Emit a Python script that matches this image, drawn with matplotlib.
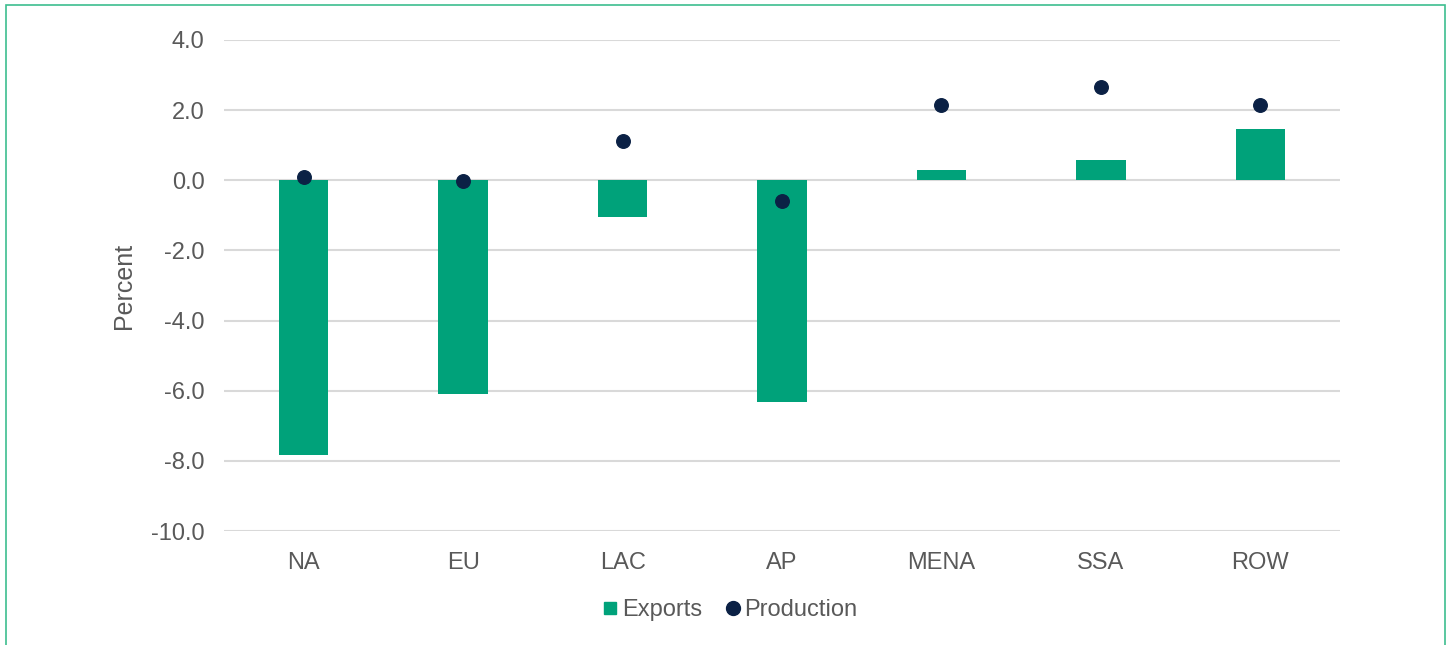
import matplotlib
matplotlib.use("Agg")
import matplotlib.pyplot as plt
from matplotlib.lines import Line2D
from matplotlib.patches import Rectangle

regions = ["NA", "EU", "LAC", "AP", "MENA", "SSA", "ROW"]
exports = [-7.83, -6.09, -1.05, -6.32, 0.29, 0.58, 1.46]
production = [0.09, -0.02, 1.12, -0.59, 2.15, 2.66, 2.15]
yticks = [4.0, 2.0, 0.0, -2.0, -4.0, -6.0, -8.0, -10.0]

bar_color = "#00A27A"
dot_color = "#0B2145"
text_color = "#595959"

plt.rcParams['font.family'] = ['Liberation Sans', 'DejaVu Sans']

fig = plt.figure(figsize=(14.49, 6.45), dpi=100)
ax = fig.add_axes([224/1449, 1-531/645, (1340-224)/1449, (531-40)/645])

x = list(range(len(regions)))
ax.bar(x, exports, width=0.31, color=bar_color, zorder=2)
ax.scatter(x, production, s=95, color=dot_color, zorder=3)

ax.set_xlim(-0.5, len(regions)-0.5)
ax.set_ylim(-10, 4)
ax.set_yticks(yticks)
ax.set_yticklabels([f"{v:.1f}" for v in yticks])
ax.set_xticks(x)
ax.set_xticklabels(regions)
ax.tick_params(axis='both', length=0, labelsize=17, colors=text_color)
ax.tick_params(axis='x', pad=15)
ax.tick_params(axis='y', pad=14)
ax.grid(axis='y', color="#D9D9D9", linewidth=1.5, zorder=0)
for s in ax.spines.values():
    s.set_visible(False)
ax.set_ylabel("Percent", fontsize=18, color=text_color)
ax.yaxis.set_label_coords(-0.079, 0.5)

handles = [
    Line2D([], [], marker='s', linestyle='none', color=bar_color, markersize=9),
    Line2D([], [], marker='o', linestyle='none', color=dot_color, markersize=10),
]
fig.legend(handles, ["Exports", "Production"], loc='center',
           bbox_to_anchor=(728/1449, 1-610/645), ncol=2, frameon=False,
           fontsize=17, labelcolor=text_color, handletextpad=0.0,
           columnspacing=0.8, handlelength=1.0)

fig.add_artist(Rectangle((6/1449, -0.05), (1445-6)/1449, 1.05-5/645,
                         transform=fig.transFigure, fill=False,
                         edgecolor="#3DBE8F", linewidth=1.2))

fig.savefig("out.png", dpi=100)
